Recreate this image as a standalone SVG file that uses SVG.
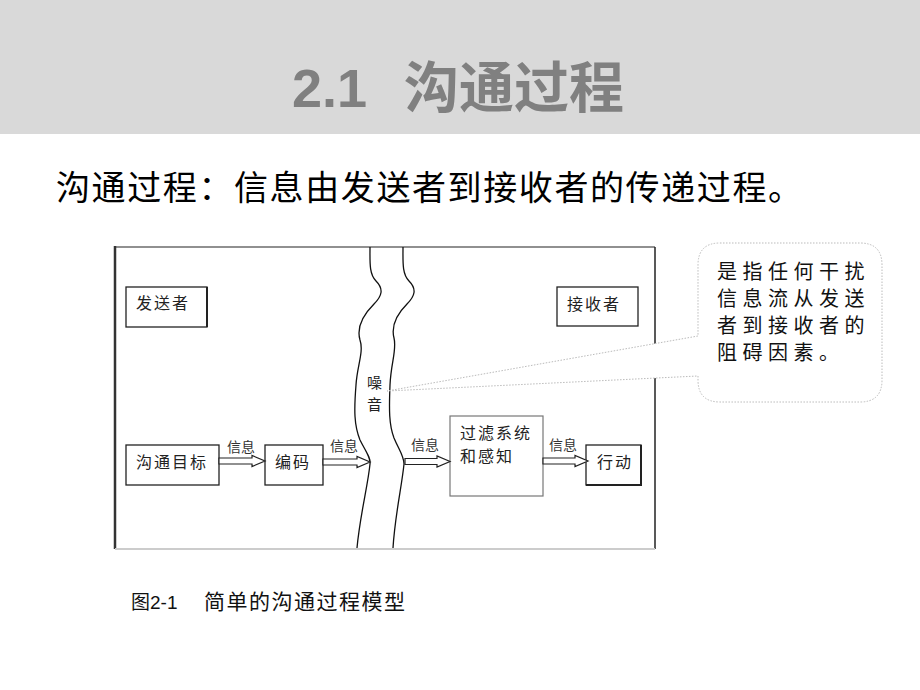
<svg xmlns="http://www.w3.org/2000/svg" width="920" height="690" viewBox="0 0 920 690">
<style>
.cjk{font-family:"Noto Sans CJK SC","Liberation Sans",sans-serif;}
.box{fill:#fff;stroke:#222;stroke-width:1.3;}
.lbl{font-size:16px;letter-spacing:2px;fill:#222;}
.info{font-size:14px;fill:#333;}
.arrow{fill:#fff;stroke:#222;stroke-width:1.2;stroke-linejoin:miter;}
.river{fill:none;stroke:#111;stroke-width:1.3;}
</style>
<rect x="0" y="0" width="920" height="690" fill="#fff"/>
<rect x="0" y="0" width="920" height="134" fill="#d9d9d9"/>
<g id="title">
<text x="292" y="107" font-family="Liberation Sans,sans-serif" font-weight="bold" font-size="54" fill="#808080">2.1</text>
<text x="404" y="107" class="cjk" font-weight="bold" font-size="55" fill="#808080">沟通过程</text>
</g>
<text id="subtitle" x="56" y="200" class="cjk" font-size="34" letter-spacing="1.6" fill="#000">沟通过程：信息由发送者到接收者的传递过程。</text>

<g id="frame">
<line x1="115" y1="247" x2="655" y2="247" stroke="#222" stroke-width="1.2"/>
<line x1="115" y1="246" x2="115" y2="549" stroke="#333" stroke-width="2.5"/>
<line x1="655" y1="247" x2="655" y2="549" stroke="#222" stroke-width="1.5"/>
<line x1="115" y1="549" x2="655" y2="549" stroke="#ccc" stroke-width="2"/>
</g>

<g id="river">
<path class="river" d="M370,247 C370,262 369,274 376,281 C384,289 382,296 374,304 C364,314 356,326 360,340 C364,352 357,366 356,385 C354,410 354,425 360,440 C366,452 371,458 370,464 C368,485 360,515 357,548"/>
<path class="river" d="M403,247 C403,262 402,274 409,281 C417,289 415,296 407,304 C397,314 391,326 394,338 C397,350 391,362 390,385 C389,410 389,425 394,438 C399,450 404,456 404,464 C402,485 395,515 393,548"/>
</g>
<g id="noise">
<text x="367" y="388" class="cjk" font-size="15" fill="#222">噪</text>
<text x="367" y="410" class="cjk" font-size="15" fill="#222">音</text>
</g>

<g id="sender">
<rect class="box" x="126" y="287" width="81" height="40"/>
<line x1="207" y1="287" x2="207" y2="327" stroke="#222" stroke-width="2"/>
<text x="136" y="309" class="cjk lbl">发送者</text>
</g>
<g id="receiver">
<rect class="box" x="557" y="287" width="81" height="39"/>
<text x="567" y="310" class="cjk lbl">接收者</text>
</g>
<g id="goal">
<rect class="box" x="126" y="445" width="93" height="40"/>
<text x="136" y="468" class="cjk lbl">沟通目标</text>
</g>
<g id="encode">
<rect class="box" x="265" y="445" width="58" height="40"/>
<text x="275" y="468" class="cjk lbl">编码</text>
</g>
<g id="filter">
<rect x="450" y="416" width="93" height="80" fill="#fff" stroke="#777" stroke-width="1.2"/>
<text x="460" y="439" class="cjk lbl">过滤系统</text>
<text x="460" y="462" class="cjk lbl">和感知</text>
</g>
<g id="action">
<rect class="box" x="586" y="445" width="55" height="40"/>
<line x1="641" y1="445" x2="641" y2="486" stroke="#222" stroke-width="2"/>
<line x1="586" y1="485" x2="642" y2="485" stroke="#222" stroke-width="2"/>
<text x="597" y="468" class="cjk lbl">行动</text>
</g>

<g id="connectors">
<polygon class="arrow" points="219,458 252,458 252,455.5 265,461 252,466.5 252,464 219,464"/>
<polygon class="arrow" points="323,459 357,459 357,456.5 370,462 357,467.5 357,465 323,465"/>
<polygon class="arrow" points="405,458.5 437,458.5 437,456 450,461.5 437,467 437,464.5 405,464.5"/>
<polygon class="arrow" points="543,458 575,458 575,455.5 588,461 575,466.5 575,464 543,464"/>
<text x="227" y="452" class="cjk info">信息</text>
<text x="330" y="451" class="cjk info">信息</text>
<text x="411" y="450" class="cjk info">信息</text>
<text x="549" y="450" class="cjk info">信息</text>
</g>

<g id="callout">
<path d="M720,243 H860 Q882,243 882,265 V380 Q882,402 860,402 H720 Q698,402 698,380 V376 L387,391 L698,336 V265 Q698,243 720,243 Z" fill="#fff" stroke="#bbb" stroke-width="1" stroke-dasharray="1.5,1.5"/>
<g class="cjk" font-size="20" letter-spacing="5.5" fill="#111">
<text x="717" y="279">是指任何干扰</text>
<text x="717" y="306">信息流从发送</text>
<text x="717" y="333">者到接收者的</text>
<text x="717" y="360">阻碍因素。</text>
</g>
</g>

<g id="caption" fill="#111">
<text x="131" y="609" class="cjk" font-size="19">图<tspan font-family="Liberation Sans,sans-serif">2-1</tspan></text>
<text x="204" y="609" class="cjk" font-size="21" letter-spacing="1.5">简单的沟通过程模型</text>
</g>
</svg>
